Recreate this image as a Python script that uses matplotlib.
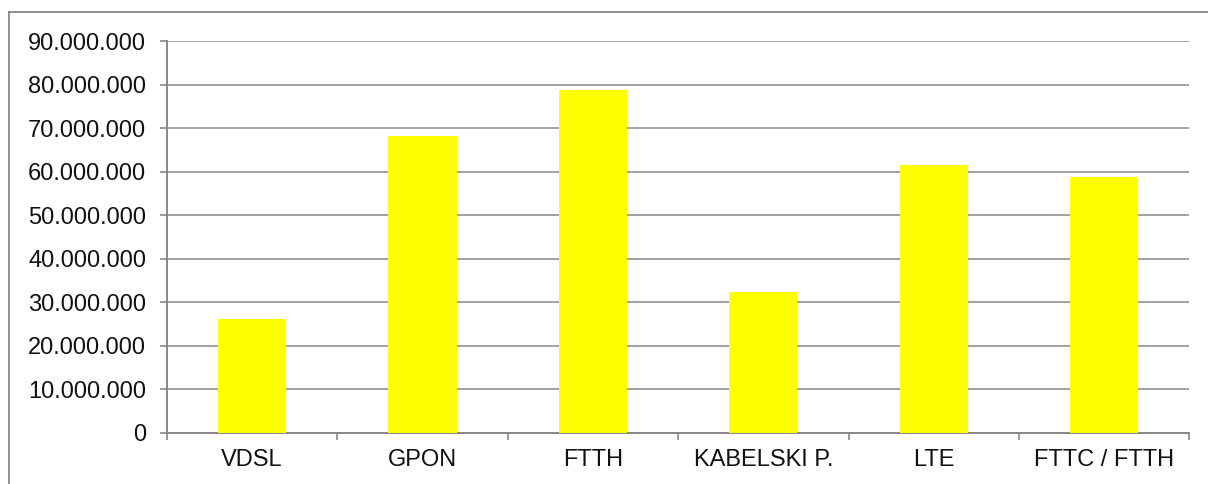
import matplotlib
matplotlib.use("Agg")
import matplotlib.pyplot as plt
from matplotlib.ticker import FuncFormatter, FixedLocator
from matplotlib.lines import Line2D

categories = ["VDSL", "GPON", "FTTH", "KABELSKI P.", "LTE", "FTTC / FTTH"]
values = [26100000, 68200000, 78800000, 32300000, 61600000, 58700000]
yticks = list(range(0, 90000001, 10000000))

plt.rcParams['font.family'] = ['Liberation Sans', 'DejaVu Sans']

fig = plt.figure(figsize=(12.08, 4.84), dpi=100)
ax = fig.add_axes([167 / 1208, 1 - 432.7 / 484, (1189.3 - 167) / 1208, (432.7 - 41.3) / 484])

x = list(range(len(categories)))
ax.bar(x, values, width=0.4, color="#ffff00", zorder=3)

ax.set_xlim(-0.5, len(categories) - 0.5)
ax.set_ylim(0, 90000000)
ax.set_yticks(yticks)
ax.yaxis.set_major_formatter(FuncFormatter(lambda v, p: f"{int(v):,}".replace(",", ".")))
ax.grid(axis="y", color="#9a9a9a", linewidth=1.3, zorder=0)

# category labels centered, ticks at boundaries
ax.set_xticks(x)
ax.set_xticklabels(categories)
ax.tick_params(axis="x", which="major", length=0, pad=12, labelsize=17, labelcolor="#111111")
ax.xaxis.set_minor_locator(FixedLocator([i - 0.5 for i in range(len(categories) + 1)]))
ax.tick_params(axis="x", which="minor", length=5, width=1.2, color="#888888", direction="out")
ax.tick_params(axis="y", length=5, width=1.2, color="#888888", pad=10, labelsize=17, labelcolor="#111111")

for side in ["top", "right"]:
    ax.spines[side].set_visible(False)
for side in ["left", "bottom"]:
    ax.spines[side].set_color("#888888")
    ax.spines[side].set_linewidth(1.4)

# outer chart border (top and left visible)
fig.add_artist(Line2D([9 / 1208, 1.0], [1 - 12 / 484, 1 - 12 / 484], color="#888888", linewidth=1.3))
fig.add_artist(Line2D([9 / 1208, 9 / 1208], [0.0, 1 - 12 / 484], color="#888888", linewidth=1.3))

fig.savefig("out.png", dpi=100)
